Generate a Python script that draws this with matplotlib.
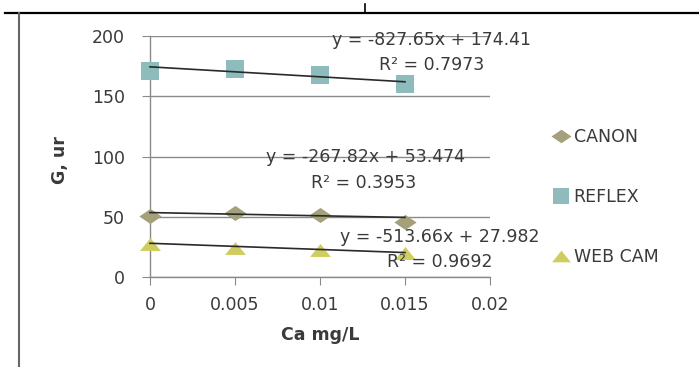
import matplotlib
matplotlib.use("Agg")
import matplotlib.pyplot as plt
from matplotlib.path import Path
import numpy as np

# ---- data ----
x_vals = [0.0, 0.005, 0.01, 0.015]
canon = [50.5, 53.0, 51.5, 46.0]
reflex = [171.0, 172.5, 168.0, 160.0]
webcam = [27.5, 24.0, 22.5, 20.0]
series_names = ["CANON", "REFLEX", "WEB CAM"]
slopes = [-267.82, -827.65, -513.66]
intercepts = [53.474, 174.41, 27.982]
r2_vals = [0.3953, 0.7973, 0.9692]
eq_texts = ["y = -267.82x + 53.474", "y = -827.65x + 174.41", "y = -513.66x + 27.982"]
r2_texts = ["R² = 0.3953", "R² = 0.7973", "R² = 0.9692"]
x_ticks = [0, 0.005, 0.01, 0.015, 0.02]
x_tick_labels = ["0", "0.005", "0.01", "0.015", "0.02"]
y_ticks = [0, 50, 100, 150, 200]

W, H = 699, 367
fig = plt.figure(figsize=(W / 100, H / 100), dpi=100)
plt.rcParams['font.family'] = ['DejaVu Sans']
TXT = '#3a3a3a'
FS = 12.5

def px(x0, y0, w, h):
    return [x0 / W, 1 - (y0 + h) / H, w / W, h / H]

ax = fig.add_axes(px(150, 36, 340, 241))
ax.set_xlim(0, 0.02)
ax.set_ylim(0, 200)

diamond = Path([(-1, 0), (0, 0.68), (1, 0), (0, -0.68), (-1, 0)],
               [Path.MOVETO, Path.LINETO, Path.LINETO, Path.LINETO, Path.CLOSEPOLY])
tri = Path([(-1, -0.62), (0, 0.62), (1, -0.62), (-1, -0.62)],
           [Path.MOVETO, Path.LINETO, Path.LINETO, Path.CLOSEPOLY])

colors = ['#A3A07A', '#8EBCBC', '#CFCD5F']
markers = [diamond, 's', tri]
msizes = [16, 13.5, 15]
data = [canon, reflex, webcam]

ax.yaxis.grid(True, color='#8a8a8a', linewidth=1.0)
ax.set_axisbelow(True)

handles = []
for d, c, m, ms, name in zip(data, colors, markers, msizes, series_names):
    h, = ax.plot(x_vals, d, linestyle='none', marker=m, markersize=ms,
                 color=c, markeredgewidth=0, label=name, zorder=3, clip_on=False)
    handles.append(h)

xs = np.array([x_vals[0], x_vals[-1]])
for s, b in zip(slopes, intercepts):
    ax.plot(xs, s * xs + b, color='#2a2a2a', linewidth=1.2, zorder=4, clip_on=False)

# trendline labels (data coords)
def to_data(pxx, pxy):
    return (0.02 * (pxx - 150) / 340, 200 * (277 - pxy) / 241)

eq_pos = [(365, 157), (431, 40), (440, 237)]
r2_pos = [(364, 183), (432, 65), (440, 262)]
for t, p in zip(eq_texts, eq_pos):
    ax.text(*to_data(*p), t, ha='center', va='center', fontsize=FS, color=TXT, zorder=5)
for t, p in zip(r2_texts, r2_pos):
    ax.text(*to_data(*p), t, ha='center', va='center', fontsize=FS, color=TXT, zorder=5)

for sp in ['top', 'right']:
    ax.spines[sp].set_visible(False)
for sp in ['left', 'bottom']:
    ax.spines[sp].set_color('#8a8a8a')
    ax.spines[sp].set_linewidth(1.0)

ax.set_xticks(x_ticks)
ax.set_xticklabels(x_tick_labels)
ax.set_yticks(y_ticks)
ax.tick_params(axis='both', colors='#8a8a8a', labelcolor=TXT, labelsize=FS, direction='out')
ax.tick_params(axis='y', length=6, pad=12)
ax.tick_params(axis='x', length=6, pad=8)

ax.set_xlabel("Ca mg/L", fontsize=FS, fontweight='bold', color=TXT, labelpad=8)
ax.set_ylabel("G, ur", fontsize=FS, fontweight='bold', color=TXT, labelpad=0)
ax.yaxis.set_label_coords((69 - 150) / 340, 0.5 + (156.5 - 160) / 241)

order = [0, 1, 2]
leg = fig.legend([handles[i] for i in order], [series_names[i] for i in order],
                 loc='center left', bbox_to_anchor=(552 / W, 1 - 197 / H),
                 frameon=False, fontsize=FS, labelcolor=TXT, handlelength=1.0,
                 handletextpad=0.25, labelspacing=2.4, borderpad=0, borderaxespad=0,
                 markerscale=0.9)

# outer frame lines
fig.add_artist(plt.Line2D([5 / W, 1], [1 - 12.5 / H, 1 - 12.5 / H], color='black', linewidth=1.6,
                          transform=fig.transFigure))
fig.add_artist(plt.Line2D([19 / W, 19 / W], [0, 1 - 13 / H], color='#666666', linewidth=1.5,
                          transform=fig.transFigure))
fig.add_artist(plt.Line2D([365 / W, 365 / W], [1 - 12 / H, 1 - 4 / H], color='black', linewidth=1.2,
                          transform=fig.transFigure))

fig.savefig("out.png", dpi=100)
